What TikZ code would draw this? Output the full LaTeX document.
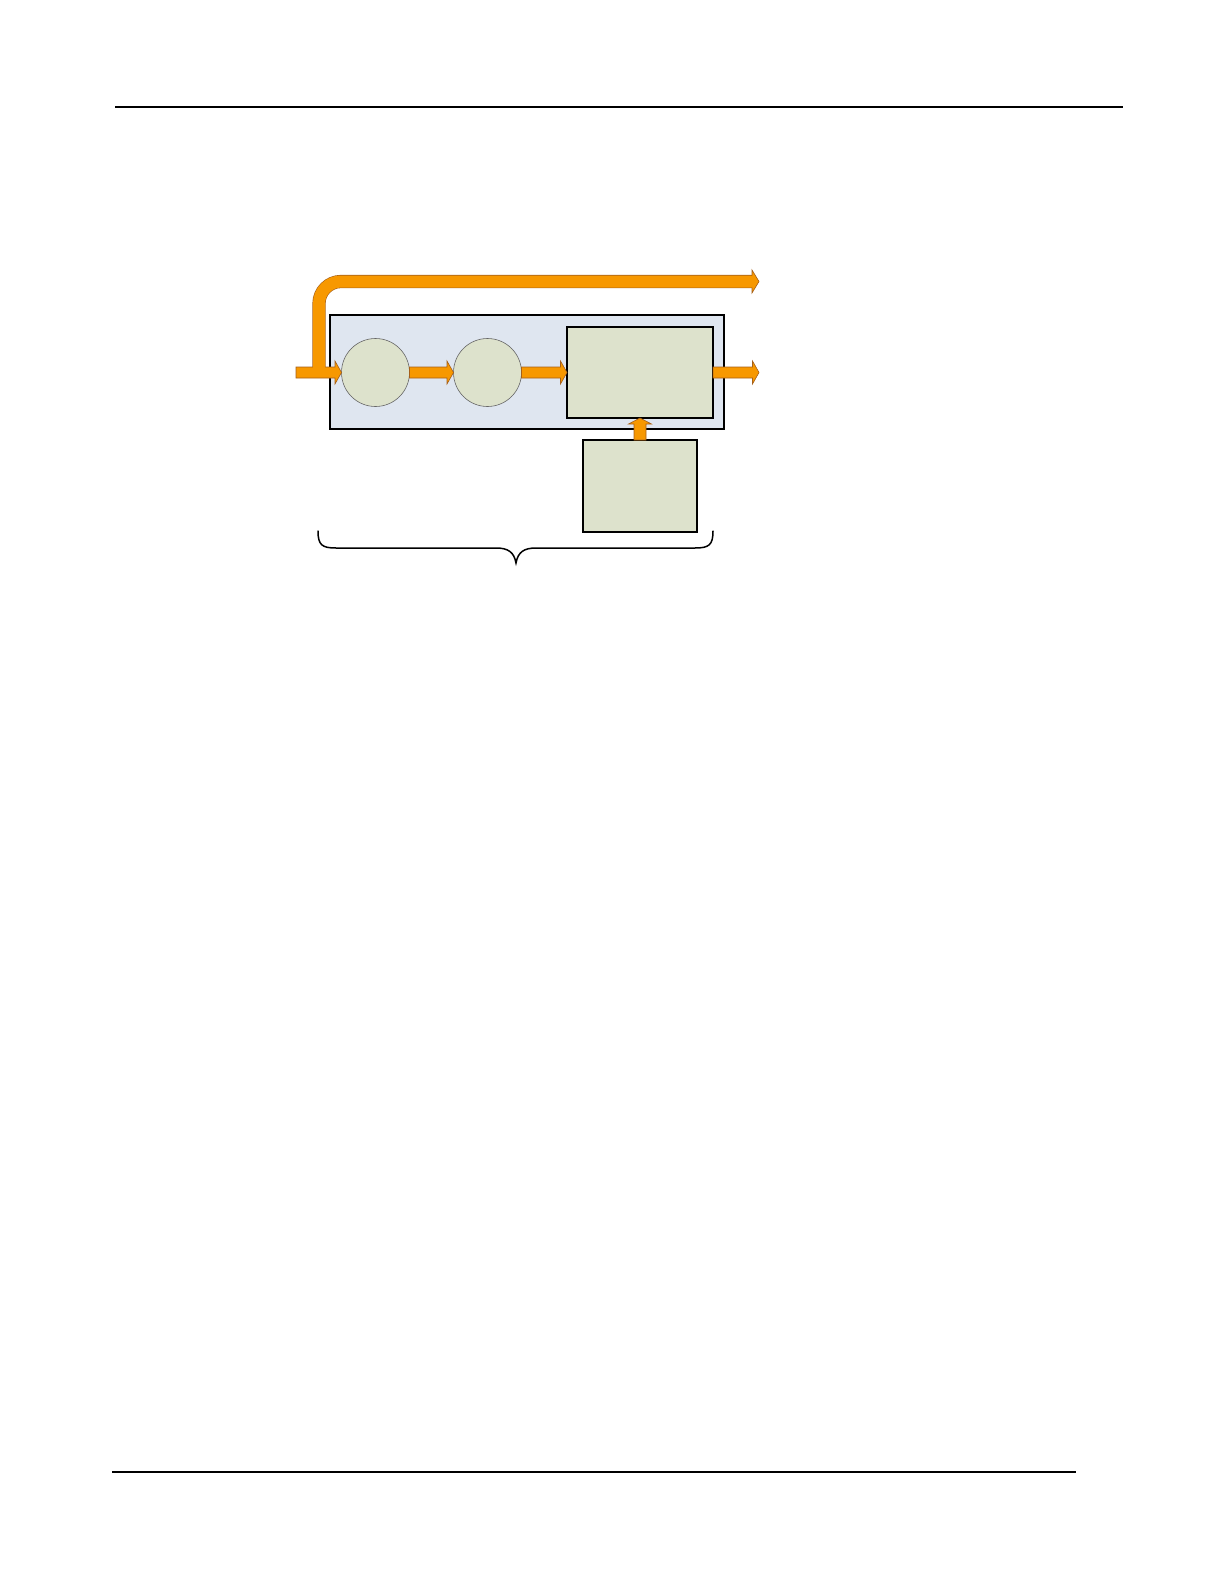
\documentclass[tikz,border=0pt]{standalone}
\usetikzlibrary{calc}
\definecolor{arrfill}{RGB}{247,152,0}
\definecolor{arrline}{RGB}{165,95,25}
\definecolor{boxblue}{RGB}{223,230,240}
\definecolor{boxgreen}{RGB}{221,226,204}
\tikzset{
  arr/.style={fill=arrfill, draw=arrline, line width=0.6pt, line join=miter},
  bluebox/.style={rectangle, draw=black, line width=1.2pt, fill=boxblue, inner sep=0pt, outer sep=0pt},
  greenbox/.style={rectangle, draw=black, line width=1.2pt, fill=boxgreen, inner sep=0pt, outer sep=0pt},
  greencirc/.style={circle, draw=black!60, line width=0.6pt, fill=boxgreen, inner sep=0pt, outer sep=0pt, minimum size=68pt},
  rule/.style={draw=black},
  bracestyle/.style={draw=black, line width=1.5pt, line cap=round}
}
\newcommand\harrow[2]{\filldraw[arr] ($(#1)+(0,5.5)$) -- ($(#2)+(-6.5,5.5)$) -- ($(#2)+(-6.5,11.5)$) -- (#2) -- ($(#2)+(-6.5,-11.5)$) -- ($(#2)+(-6.5,-5.5)$) -- ($(#1)+(0,-5.5)$) -- cycle;}
\newcommand\varrow[2]{\filldraw[arr] ($(#1)+(-6,0)$) -- ($(#2)+(-6,6)$) -- ($(#2)+(-11.5,6)$) -- (#2) -- ($(#2)+(11.5,6)$) -- ($(#2)+(6,6)$) -- ($(#1)+(6,0)$) -- cycle;}
\begin{document}
\begin{tikzpicture}[x=1pt,y=-1pt]
\useasboundingbox (0,0) rectangle (1224,1584);
% page rules
\coordinate (hl) at (115,107); \coordinate (hr) at (1123,107);
\draw[rule, line width=2pt] (hl) -- (hr);
\coordinate (fl) at (112,1472); \coordinate (fr) at (1076,1472);
\draw[rule, line width=1.2pt] (fl) -- (fr);
% boxes
\node[bluebox, minimum width=394pt, minimum height=114pt] (outer) at (527,372) {};
\node[greencirc] (c1) at (375.5,372.5) {};
\node[greencirc] (c2) at (487.5,372.5) {};
\node[greenbox, minimum width=146pt, minimum height=91pt] (inner) at (640,372.5) {};
\node[greenbox, minimum width=114pt, minimum height=92pt] (lower) at (640,486) {};
% bypass arrow (outline)
\coordinate (in) at (296,372.5);
\coordinate (split) at (319,367);
\coordinate (splitin) at (319,369);
\coordinate (corner) at (319,281.5);
\coordinate (bend) at (752,281.5);
\coordinate (bypass) at (759,281.5);
\coordinate (out) at (759,372.5);
\draw[arrline, line width=13.2pt, rounded corners=22pt] (split) -- (corner) -- (bend);
% main arrows
\harrow{in}{c1.west}
\harrow{c1.east}{c2.west}
\harrow{c2.east}{inner.west}
\harrow{inner.east}{out}
\varrow{lower.north}{inner.south}
% bypass arrow (fill)
\draw[arrfill, line width=12pt, rounded corners=22pt] (splitin) -- (corner) -- ($(bend)+(0.5,0)$);
\filldraw[arr] ($(bend)+(0,6)$) -- ($(bend)+(0,11.5)$) -- (bypass) -- ($(bend)+(0,-11.5)$) -- ($(bend)+(0,-6)$);
% brace
\coordinate (bl) at (318,531);
\coordinate (br) at (713,531);
\coordinate (btip) at (516,563);
\draw[bracestyle] (bl) .. controls (318,545) and (322,548) .. (336,548)
  -- (496,548) .. controls (508,548) and (514,552) .. (btip)
  .. controls (518,552) and (524,548) .. (536,548)
  -- (695,548) .. controls (709,548) and (713,545) .. (br);
\end{tikzpicture}
\end{document}
